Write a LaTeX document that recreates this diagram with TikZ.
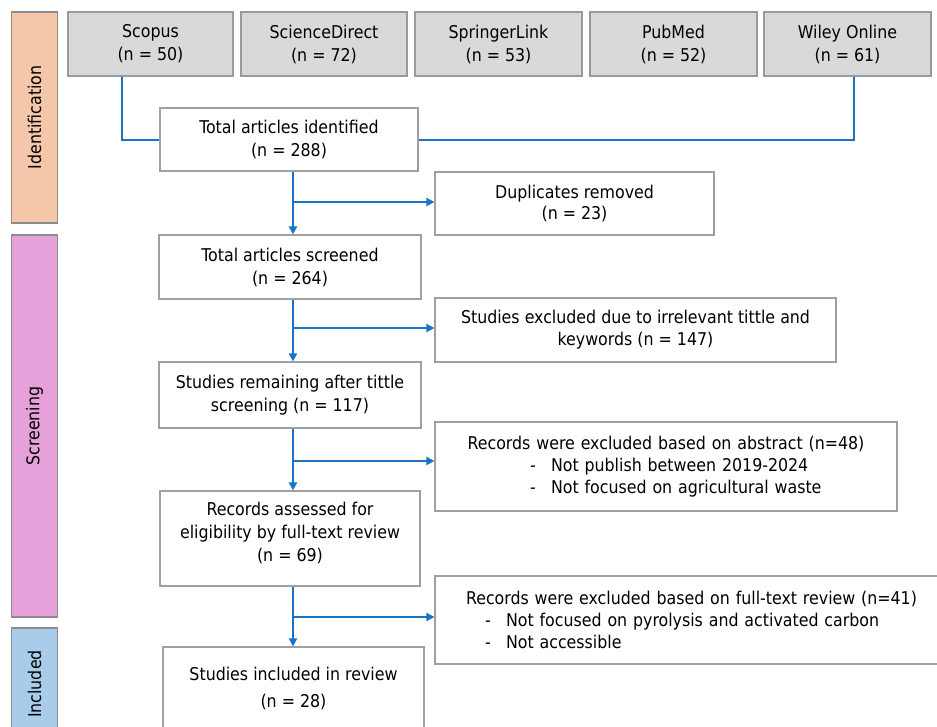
\documentclass[tikz,border=0pt]{standalone}
\usepackage{fontspec}
\setmainfont{DejaVu Sans Condensed}
\usetikzlibrary{arrows.meta,calc}
\definecolor{peach}{HTML}{F4C7AB}
\definecolor{pinkbar}{HTML}{E6A0DA}
\definecolor{bluebar}{HTML}{A9CCEB}
\definecolor{bargray}{HTML}{8C8C8C}
\definecolor{srcfill}{HTML}{D9D9D9}
\definecolor{srcdraw}{HTML}{9A9A9A}
\definecolor{boxdraw}{HTML}{A0A0A0}
\definecolor{flowblue}{HTML}{1A73C8}
\definecolor{txt}{HTML}{000000}
\tikzset{
  basefont/.style={font=\fontsize{17.6}{23}\selectfont},
  box/.style={basefont, draw=boxdraw, line width=1.2pt, fill=white, inner sep=0pt, align=center, text=txt},
  srcbox/.style={box, fill=srcfill, draw=srcdraw, minimum width=166pt, minimum height=64pt},
  phase/.style={basefont, draw=bargray, line width=1.2pt, rotate=90, inner sep=0pt, minimum height=46pt, text=txt},
  conn/.style={draw=flowblue, line width=2pt},
  arr/.style={conn, -{Triangle[length=8pt,width=8pt]}}
}
\begin{document}
\begin{tikzpicture}[x=1pt,y=-1pt]
\useasboundingbox (0,0) rectangle (937,726);
\clip (0,0) rectangle (937,726);

% phase bars
\node[phase, fill=peach, minimum width=211pt] (pid) at (34.5,117.5) {Identification};
\node[phase, fill=pinkbar, minimum width=382pt] (pscr) at (34.5,426) {Screening};
\node[phase, fill=bluebar, minimum width=112pt] (pinc) at (34.5,684) {Included};

% sources
\node[srcbox, minimum width=165pt] (scopus) at (150.5,44) {Scopus\\(n = 50)};
\node[srcbox] (sd) at (324,44) {ScienceDirect\\(n = 72)};
\node[srcbox, minimum width=167pt] (spr) at (498.5,44) {SpringerLink\\(n = 53)};
\node[srcbox, minimum width=167pt] (pub) at (673.5,44) {PubMed\\(n = 52)};
\node[srcbox, minimum width=167pt] (wiley) at (847.5,44) {Wiley Online\\(n = 61)};

% main column
\node[box, minimum width=258pt, minimum height=63pt] (ident) at (289,139.5) {Total articles identified\\(n = 288)};
\node[box, minimum width=262pt, minimum height=64pt] (screened) at (290,267) {Total articles screened\\(n = 264)};
\node[box, minimum width=262pt, minimum height=66pt] (remain) at (290,395) {Studies remaining after tittle\\screening (n = 117)};
\node[box, minimum width=260pt, minimum height=95pt, text depth=14pt] (assess) at (290,538.5) {Records assessed for\\eligibility by full-text review\\(n = 69)};
\node[box, minimum width=261pt, minimum height=83pt, font=\fontsize{17.6}{27}\selectfont] (incl) at (293.5,688.5) {Studies included in review\\(n = 28)};

% side boxes
\node[box, minimum width=279pt, minimum height=63pt, font=\fontsize{17.6}{21}\selectfont] (dup) at (574.5,203.5) {Duplicates removed\\(n = 23)};
\node[box, minimum width=401pt, minimum height=64pt, font=\fontsize{17.6}{22}\selectfont] (excl) at (635.5,330) {Studies excluded due to irrelevant tittle and\\keywords (n = 147)};
\node[box, text width=462pt, align=left, minimum height=89pt, font=\fontsize{17.6}{22}\selectfont] (abs) at (666,466.5) {\makebox[462pt]{Records were excluded based on abstract (n=48)}\\
\hspace*{95pt}\makebox[21pt][l]{-}Not publish between 2019-2024\\
\hspace*{95pt}\makebox[21pt][l]{-}Not focused on agricultural waste};
\node[box, text width=513pt, align=left, minimum height=88pt, font=\fontsize{17.6}{22}\selectfont] (full) at (691.5,620) {\makebox[513pt]{Records were excluded based on full-text review (n=41)}\\
\hspace*{50pt}\makebox[21pt][l]{-}Not focused on pyrolysis and activated carbon\\
\hspace*{50pt}\makebox[21pt][l]{-}Not accessible};

% connectors from databases
\draw[conn] ([xshift=-28.5pt]scopus.south) |- (ident.west);
\draw[conn] ([xshift=6.5pt]wiley.south) |- (ident.east);

% spine
\coordinate (sp) at (293,0);
\coordinate (b1) at (293,202);
\coordinate (b2) at (293,328);
\coordinate (b3) at (293,461);
\coordinate (b4) at (293,617);

\draw[arr] (ident.south -| sp) -- (screened.north -| sp);
\draw[arr] (b1) -- (b1 -| dup.west);
\draw[arr] (screened.south -| sp) -- (remain.north -| sp);
\draw[arr] (b2) -- (b2 -| excl.west);
\draw[arr] (remain.south -| sp) -- (assess.north -| sp);
\draw[arr] (b3) -- (b3 -| abs.west);
\draw[arr] (assess.south -| sp) -- (incl.north -| sp);
\draw[arr] (b4) -- (b4 -| full.west);
\end{tikzpicture}
\end{document}
